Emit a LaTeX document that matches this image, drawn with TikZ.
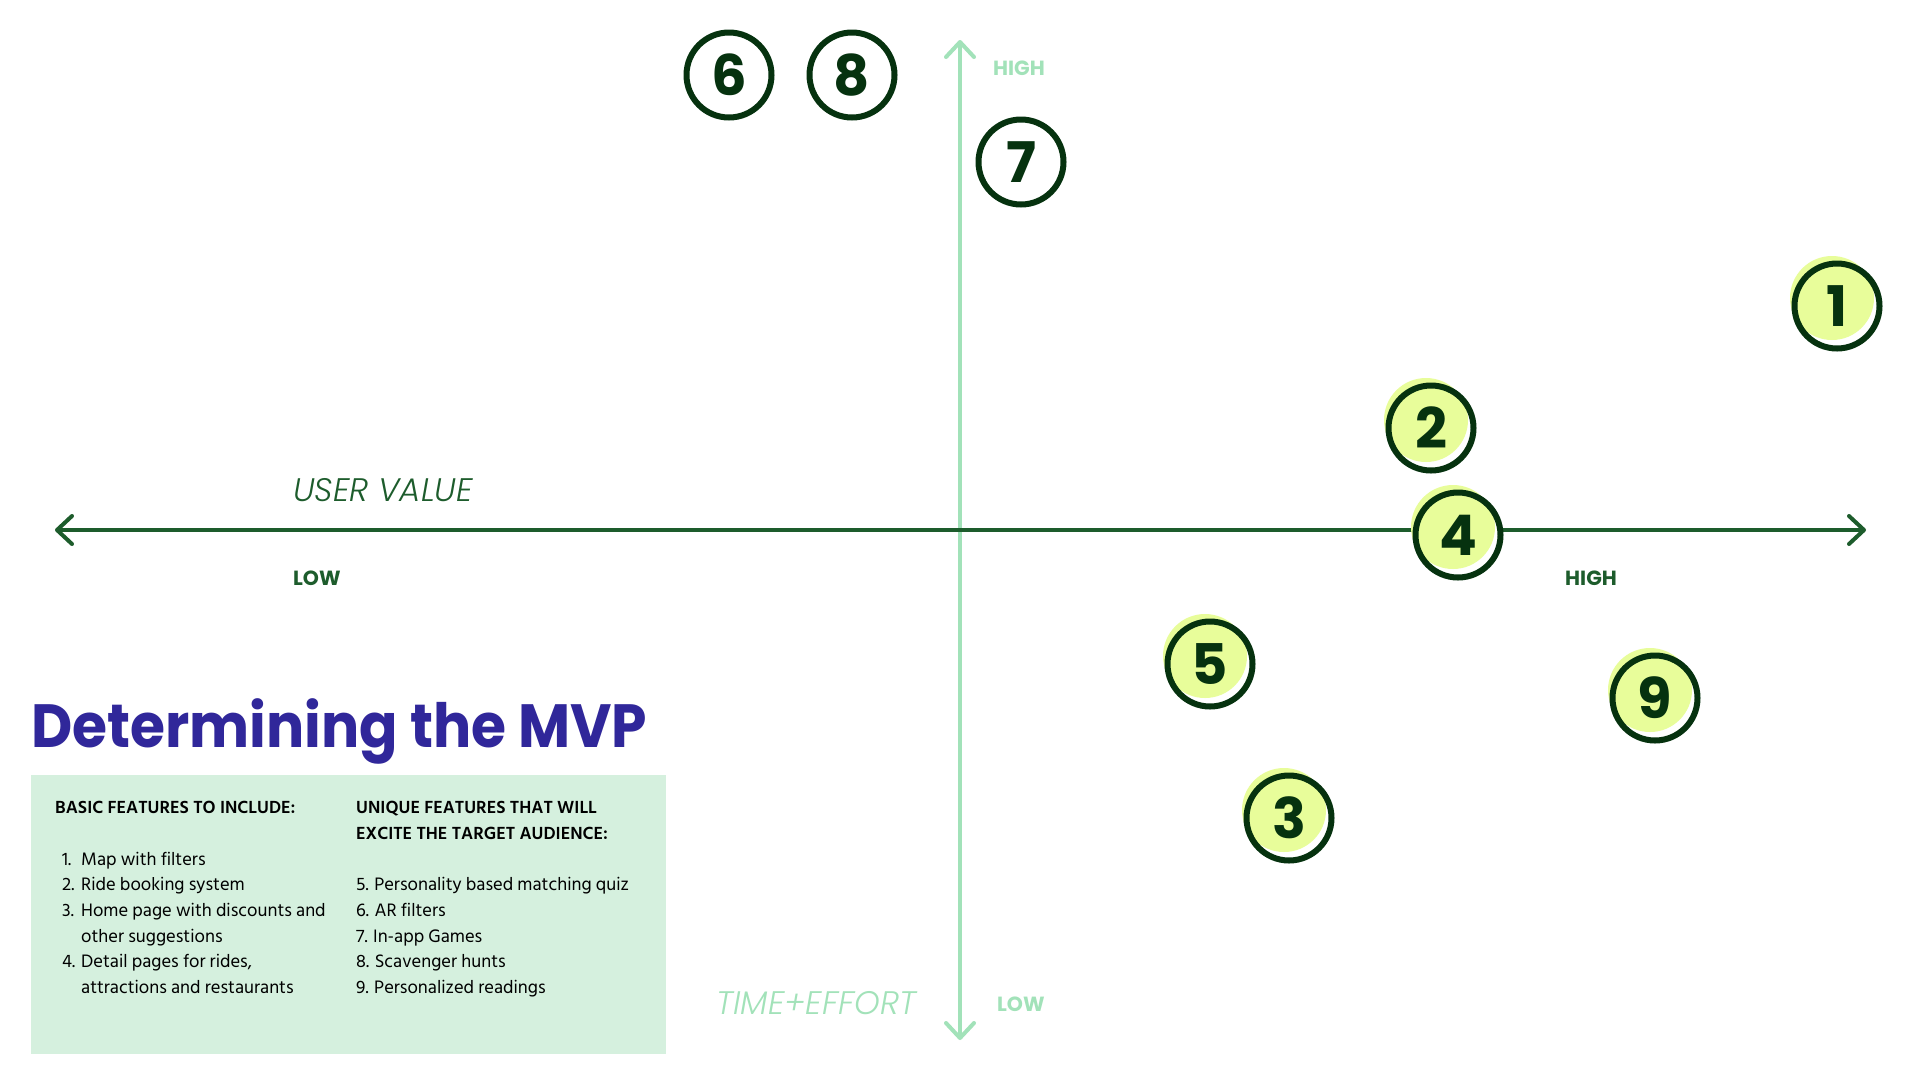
\documentclass[tikz,border=0pt]{standalone}
\usepackage{fontspec}
\setmainfont{Poppins}
\newfontfamily\lightit{Poppins Light Italic}
\newfontfamily\titlefont{Poppins}[FakeStretch=0.93]
\newfontfamily\listfont{Hind Siliguri}
\usetikzlibrary{arrows.meta}
\definecolor{ringdark}{HTML}{06320F}
\definecolor{bubbleyellow}{HTML}{E8FD9A}
\definecolor{axisdark}{HTML}{1D5C2C}
\definecolor{axislight}{HTML}{A2E2B9}
\definecolor{boxgreen}{HTML}{D5F0DE}
\definecolor{titleblue}{HTML}{30279A}
\tikzset{
  barb/.tip={Straight Barb[length=15pt, width=28pt, round]},
  bubble/.style={circle, draw=ringdark, line width=6pt, minimum size=85pt, inner sep=0pt,
    font=\fontsize{56}{56}\selectfont\bfseries, text=ringdark},
  haxis/.style={draw=axisdark, line width=4pt, line cap=round, barb-barb},
  vaxis/.style={draw=axislight, line width=4pt, line cap=round, barb-barb},
  axisword/.style={inner sep=0pt, anchor=base west, font=\fontsize{32.6}{32.6}\selectfont\lightit},
  endlabel/.style={inner sep=0pt, anchor=west, font=\fontsize{20.5}{20.5}\selectfont\bfseries},
  listline/.style={inner sep=0pt, anchor=base west, text=black, font=\fontsize{18.5}{18.5}\selectfont\listfont},
  listhead/.style={listline, font=\fontsize{18}{18}\selectfont\listfont\bfseries},
}
\newcommand{\bubblewithfill}[3]{%
  \fill[white] (#1) circle (40);
  \fill[bubbleyellow] ([shift={(-5,-8)}]#1) circle (42);
  \node[bubble] (#2) at (#1) {#3};
}
\begin{document}
\begin{tikzpicture}[x=1pt,y=-1pt]
\useasboundingbox (0,0) rectangle (1920,1080);
\fill[white] (0,0) rectangle (1920,1080);

% axes
\coordinate (hl) at (55,530);
\coordinate (hr) at (1866,530);
\coordinate (vt) at (960,40);
\coordinate (vb) at (960,1040);
\draw[vaxis] (vb) -- (vt);
\draw[haxis] (hl) -- (hr);

% axis labels
\node[axisword, text=axisdark] (uv) at (293,501) {USER VALUE};
\node[endlabel, text=axisdark] (lowx) at (293,578) {LOW};
\node[endlabel, text=axisdark] (highx) at (1565,578) {HIGH};
\node[endlabel, text=axislight] (highy) at (993,68) {HIGH};
\node[endlabel, text=axislight] (lowy) at (997,1004) {LOW};
\node[axisword, text=axislight] (te) at (716,1014) {TIME+EFFORT};

% bubbles
\coordinate (p1) at (1837,306);
\coordinate (p2) at (1431,428);
\coordinate (p3) at (1289,818);
\coordinate (p4) at (1458,535);
\coordinate (p5) at (1210,664);
\coordinate (p6) at (729,75);
\coordinate (p7) at (1021,162);
\coordinate (p8) at (852,75);
\coordinate (p9) at (1655,698);
\bubblewithfill{p1}{c1}{1}
\bubblewithfill{p2}{c2}{2}
\bubblewithfill{p3}{c3}{3}
\bubblewithfill{p4}{c4}{4}
\bubblewithfill{p5}{c5}{5}
\bubblewithfill{p9}{c9}{9}
\node[bubble, fill=white] (c6) at (p6) {6};
\node[bubble, fill=white] (c7) at (p7) {7};
\node[bubble, fill=white] (c8) at (p8) {8};

% title
\node[inner sep=0pt, anchor=base west, text=titleblue,
  font=\fontsize{61}{61}\selectfont\titlefont\bfseries] (title) at (31,747) {Determining the MVP};

% feature box
\fill[boxgreen] (31,775) rectangle (666,1054);
\node[listhead] (l0) at (55,813.5) {BASIC FEATURES TO INCLUDE:};
\node[listline] (l1) at (62,865) {\makebox[19pt][l]{1.}Map with filters};
\node[listline] (l2) at (62,890.7) {\makebox[19pt][l]{2.}Ride booking system};
\node[listline] (l3) at (62,916.4) {\makebox[19pt][l]{3.}Home page with discounts and};
\node[listline] (l4) at (81,942.1) {other suggestions};
\node[listline] (l5) at (62,967.8) {\makebox[19pt][l]{4.}Detail pages for rides,};
\node[listline] (l6) at (81,993.5) {attractions and restaurants};

\node[listhead] (r0) at (356,813.5) {UNIQUE FEATURES THAT WILL};
\node[listhead] (r1) at (356,839.2) {EXCITE THE TARGET AUDIENCE:};
\node[listline] (r5) at (356,890.7) {5. Personality based matching quiz};
\node[listline] (r6) at (356,916.4) {6. AR filters};
\node[listline] (r7) at (356,942.1) {7. In-app Games};
\node[listline] (r8) at (356,967.8) {8. Scavenger hunts};
\node[listline] (r9) at (356,993.5) {9. Personalized readings};
\end{tikzpicture}
\end{document}
